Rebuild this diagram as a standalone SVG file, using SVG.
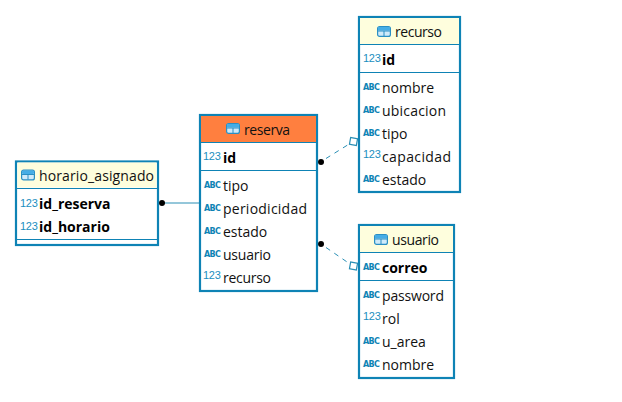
<svg xmlns="http://www.w3.org/2000/svg" width="622" height="402" viewBox="0 0 622 402">
<style>
.box{fill:#fff;stroke:#0e83b5;stroke-width:2.2}
.hd{fill:#fefedd}
.hdo{fill:#ff7f3f}
.sep{stroke:#0e83b5;stroke-width:1;fill:none}
text{font-family:"Open Sans","Noto Sans","Liberation Sans",sans-serif;fill:#111}
.t{font-size:14px}
.k{font-size:14px;font-weight:700;fill:#000}
.n{font-size:11px;fill:#1b8fc0;font-family:"Liberation Sans",sans-serif;letter-spacing:-.3px}
.a{font-size:8px;font-weight:700;fill:#0e83b5;font-family:"DejaVu Sans",sans-serif;letter-spacing:-.6px}
.conn{stroke:#2a8fb5;stroke-width:1;fill:none}
.dash{stroke-dasharray:5 5}
.dot{fill:#000}
.sq{fill:#fff;stroke:#2a8fb5;stroke-width:1.2}
</style>
<defs>
<g id="ti"><rect x=".6" y=".6" width="12.800" height="9.800" rx="2" fill="#cfeafa" stroke="#2a8fc4" stroke-width="1.200"/><rect x="1" y="1" width="12" height="3.500" rx="1.200" fill="#45ade6"/><path d="M1 5H13M7 5V10" stroke="#2a8fc4" stroke-width="1" fill="none"/></g>
</defs>
<g id="connectors">
<path class="conn" d="M162 203H200"/>
<path class="conn dash" d="M326 158.500L350 143.500"/>
<path class="conn dash" d="M326 247.500L350 264"/>
<circle class="dot" cx="162" cy="203" r="3"/>
<circle class="dot" cx="321" cy="162" r="3"/>
<circle class="dot" cx="321" cy="244" r="3"/>
<rect class="sq" x="350" y="138" width="7" height="7" transform="rotate(10 353.500 141.500)"/>
<rect class="sq" x="350" y="262.500" width="7" height="7" transform="rotate(10 353.500 266)"/>
</g>
<g id="horario_asignado">
<rect class="box" x="16" y="161.500" width="142" height="83.500"/>
<rect class="hd" x="17.500" y="162.500" width="139" height="25"/>
<path class="sep" d="M17 188.500H157M17 239.500H157"/>
<use href="#ti" x="21" y="169.500"/>
<text class="t" x="39" y="181" textLength="115">horario_asignado</text>
<text class="n" x="20" y="207">123</text><text class="k" x="39" y="209">id_reserva</text>
<text class="n" x="20" y="230">123</text><text class="k" x="39" y="232">id_horario</text>
</g>
<g id="reserva">
<rect class="box" x="200" y="115" width="117" height="176"/>
<rect class="hdo" x="201" y="116" width="115" height="26"/>
<path class="sep" d="M201 142.500H316M201 170.500H316"/>
<use href="#ti" x="226" y="123"/>
<text class="t" x="244" y="135" textLength="46">reserva</text>
<text class="n" x="203" y="160">123</text><text class="k" x="223" y="163">id</text>
<text class="a" x="204" y="188">ABC</text><text class="t" x="223" y="191">tipo</text>
<text class="a" x="204" y="211">ABC</text><text class="t" x="223" y="214" textLength="84">periodicidad</text>
<text class="a" x="204" y="234">ABC</text><text class="t" x="223" y="237">estado</text>
<text class="a" x="204" y="257">ABC</text><text class="t" x="223" y="260" textLength="48">usuario</text>
<text class="n" x="203" y="279">123</text><text class="t" x="223" y="283" textLength="48">recurso</text>
</g>
<g id="recurso">
<rect class="box" x="359" y="17" width="101" height="175"/>
<rect class="hd" x="360" y="18" width="99" height="26"/>
<path class="sep" d="M360 44.500H459M360 72.500H459"/>
<use href="#ti" x="377" y="26"/>
<text class="t" x="395" y="37" textLength="47">recurso</text>
<text class="n" x="363" y="62">123</text><text class="k" x="382" y="65">id</text>
<text class="a" x="363" y="90">ABC</text><text class="t" x="382" y="93">nombre</text>
<text class="a" x="363" y="113">ABC</text><text class="t" x="382" y="116" textLength="64">ubicacion</text>
<text class="a" x="363" y="136">ABC</text><text class="t" x="382" y="139">tipo</text>
<text class="n" x="363" y="158">123</text><text class="t" x="382" y="162" textLength="69">capacidad</text>
<text class="a" x="363" y="182">ABC</text><text class="t" x="382" y="185">estado</text>
</g>
<g id="usuario">
<rect class="box" x="359" y="225" width="95" height="153"/>
<rect class="hd" x="360" y="226" width="93" height="26"/>
<path class="sep" d="M360 252.500H453M360 280.500H453"/>
<use href="#ti" x="374" y="234"/>
<text class="t" x="392" y="245" textLength="47">usuario</text>
<text class="a" x="363" y="270">ABC</text><text class="k" x="382" y="273">correo</text>
<text class="a" x="363" y="298">ABC</text><text class="t" x="382" y="301" textLength="62">password</text>
<text class="n" x="363" y="320">123</text><text class="t" x="382" y="324">rol</text>
<text class="a" x="363" y="344">ABC</text><text class="t" x="382" y="347">u_area</text>
<text class="a" x="363" y="367">ABC</text><text class="t" x="382" y="370">nombre</text>
</g>
</svg>
